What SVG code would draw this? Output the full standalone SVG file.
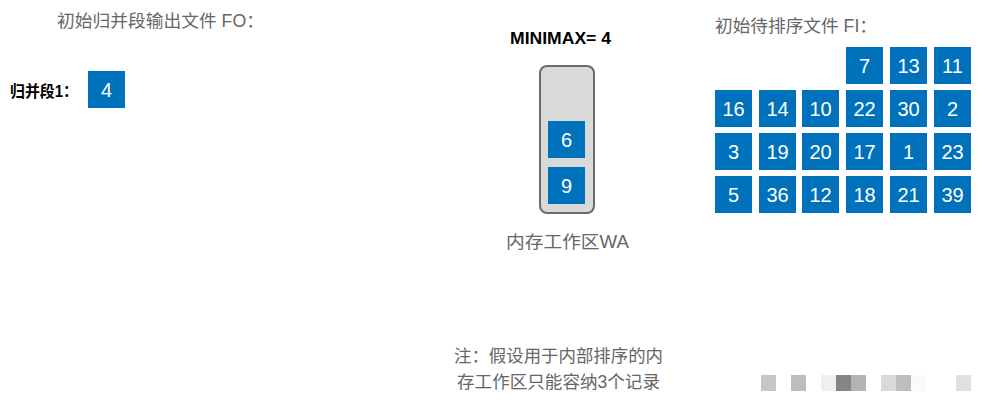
<svg xmlns="http://www.w3.org/2000/svg" width="986" height="408" viewBox="0 0 986 408">
<style>
.t{font-family:"Liberation Sans","Noto Sans CJK SC",sans-serif;fill:#666;font-size:17.5px}
.b{font-family:"Liberation Sans","Noto Sans CJK SC",sans-serif;fill:#000;font-weight:bold;font-size:16px}
.c rect{fill:#0071bb}
.c text{font-family:"Liberation Sans",Arial,sans-serif;fill:#fff;font-size:20px;text-anchor:middle}
.wm{stroke:none}
</style>
<rect width="986" height="408" fill="#fff"/>
<g id="title-fo"><text class="t" x="57" y="27" textLength="207" lengthAdjust="spacingAndGlyphs">初始归并段输出文件 FO：</text></g>
<g id="title-fi"><text class="t" x="715" y="32" textLength="162" lengthAdjust="spacingAndGlyphs">初始待排序文件 FI：</text></g>
<g id="minimax"><text class="b" x="510" y="44" textLength="101" lengthAdjust="spacingAndGlyphs">MINIMAX= 4</text></g>
<g id="run1-label"><text class="b" x="10" y="97" textLength="68" lengthAdjust="spacingAndGlyphs">归并段1：</text></g>
<g id="run1" class="c"><rect x="88" y="71" width="37" height="37"/><text x="106.5" y="97">4</text></g>
<g id="wa">
<rect x="540" y="66" width="54" height="147" rx="7" fill="#d9d9d9" stroke="#6b6b6b" stroke-width="2"/>
<g class="c"><rect x="548" y="121" width="37" height="37"/><text x="566.5" y="147">6</text>
<rect x="548" y="167" width="37" height="37"/><text x="566.5" y="193">9</text></g>
<text class="t" x="506" y="248" textLength="123" lengthAdjust="spacingAndGlyphs">内存工作区WA</text>
</g>
<g id="fi" class="c">
<rect x="846" y="47" width="37" height="37"/><text x="864.5" y="73">7</text>
<rect x="890" y="47" width="37" height="37"/><text x="908.5" y="73">13</text>
<rect x="934" y="47" width="37" height="37"/><text x="952.5" y="73">11</text>
<rect x="715" y="90" width="37" height="37"/><text x="733.5" y="116">16</text>
<rect x="759" y="90" width="37" height="37"/><text x="777.5" y="116">14</text>
<rect x="802" y="90" width="37" height="37"/><text x="820.5" y="116">10</text>
<rect x="846" y="90" width="37" height="37"/><text x="864.5" y="116">22</text>
<rect x="890" y="90" width="37" height="37"/><text x="908.5" y="116">30</text>
<rect x="934" y="90" width="37" height="37"/><text x="952.5" y="116">2</text>
<rect x="715" y="133" width="37" height="37"/><text x="733.5" y="159">3</text>
<rect x="759" y="133" width="37" height="37"/><text x="777.5" y="159">19</text>
<rect x="802" y="133" width="37" height="37"/><text x="820.5" y="159">20</text>
<rect x="846" y="133" width="37" height="37"/><text x="864.5" y="159">17</text>
<rect x="890" y="133" width="37" height="37"/><text x="908.5" y="159">1</text>
<rect x="934" y="133" width="37" height="37"/><text x="952.5" y="159">23</text>
<rect x="715" y="176" width="37" height="37"/><text x="733.5" y="202">5</text>
<rect x="759" y="176" width="37" height="37"/><text x="777.5" y="202">36</text>
<rect x="802" y="176" width="37" height="37"/><text x="820.5" y="202">12</text>
<rect x="846" y="176" width="37" height="37"/><text x="864.5" y="202">18</text>
<rect x="890" y="176" width="37" height="37"/><text x="908.5" y="202">21</text>
<rect x="934" y="176" width="37" height="37"/><text x="952.5" y="202">39</text>
</g>
<g id="note">
<text class="t" x="454" y="362" textLength="209" lengthAdjust="spacingAndGlyphs">注：假设用于内部排序的内</text>
<text class="t" x="457" y="388" textLength="203" lengthAdjust="spacingAndGlyphs">存工作区只能容纳3个记录</text>
</g>
<g id="watermark" class="wm">
<rect x="761" y="375" width="15" height="16" fill="#c6c6c6"/>
<rect x="791" y="375" width="15" height="16" fill="#bdbdbd"/>
<rect x="821" y="375" width="15" height="16" fill="#efefef"/>
<rect x="836" y="375" width="15" height="16" fill="#858585"/>
<rect x="851" y="375" width="15" height="16" fill="#b3b3b3"/>
<rect x="881" y="375" width="15" height="16" fill="#d9d9d9"/>
<rect x="896" y="375" width="15" height="16" fill="#bebebe"/>
<rect x="911" y="375" width="15" height="16" fill="#fafafa"/>
<rect x="956" y="375" width="15" height="16" fill="#e0e0e0"/>
</g>
</svg>
